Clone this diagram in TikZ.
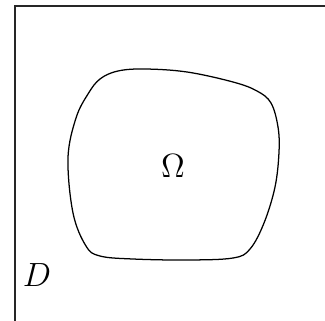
\documentclass[tikz,border=0pt]{standalone}
\usepackage{amsmath,amssymb}
\usetikzlibrary{calc}
\tikzset{
  boxline/.style={draw=black!85, line width=0.45pt},
  region/.style={draw=black, line width=0.45pt},
  setlabel/.style={inner sep=0pt, font=\large}
}

\begin{document}
\begin{tikzpicture}[x=0.3575pt,y=-0.3575pt]
  \useasboundingbox (0,0) rectangle (325,320);
  \clip (0,0) rectangle (325,320);
  % outer domain, cut by the frame
  \draw[boxline] (15,340) -- (15,6) -- (340,6);
  % the subregion
  \draw[region] plot[smooth cycle, tension=0.6] coordinates {
    (68,158) (76,118) (88,94) (100,79) (118,71) (145,69) (187,72) (233,82)
    (257,91) (271,103) (278,127) (279,152) (275,187) (264,223)
    (250,249) (233,258) (187,260) (133,259) (100,256) (86,246)
    (73,213)};
  \node[setlabel] (omega) at (173,166) {$\Omega$};
  \node[setlabel] (dlabel) at (37,275) {$D$};
\end{tikzpicture}
\end{document}
